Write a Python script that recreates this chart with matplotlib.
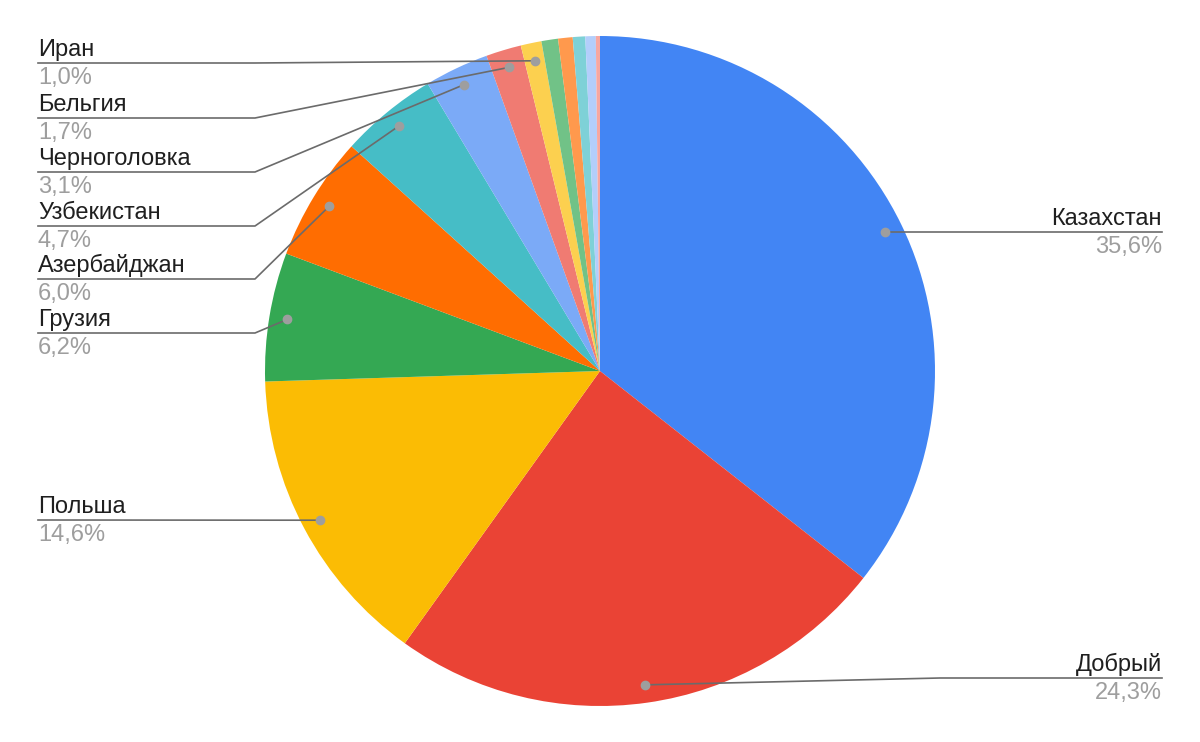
import numpy as np
import matplotlib.pyplot as plt

plt.rcParams['font.family'] = ['Liberation Sans', 'DejaVu Sans']

labels = ['Казахстан', 'Добрый', 'Польша', 'Грузия', 'Азербайджан', 'Узбекистан',
          'Черноголовка', 'Бельгия', 'Иран', 'Прочие 1', 'Прочие 2', 'Прочие 3',
          'Прочие 4', 'Прочие 5']
values = [35.6, 24.3, 14.6, 6.2, 6.0, 4.7, 3.1, 1.7, 1.0, 0.8, 0.7, 0.6, 0.5, 0.2]
pct_text = ['35,6%', '24,3%', '14,6%', '6,2%', '6,0%', '4,7%', '3,1%', '1,7%', '1,0%']
colors = ['#4285F4', '#EA4335', '#FBBC04', '#34A853', '#FF6D01', '#46BDC6',
          '#7BAAF7', '#F07B72', '#FCD04F', '#71C287', '#FF994D', '#7ED1D7',
          '#B3CEFB', '#F7A7A0']

W, H = 1200, 742
fig = plt.figure(figsize=(12, 7.42), dpi=100)
ax = fig.add_axes([0, 0, 1, 1])

cx, cy, R = 600, H - 371, 335
wedges, _ = ax.pie(values, center=(cx, cy), radius=R, startangle=90,
                   counterclock=False, colors=colors,
                   wedgeprops=dict(linewidth=0))
ax.set_xlim(0, W)
ax.set_ylim(0, H)
ax.set_aspect('equal')
ax.axis('off')


def dot_pos(w):
    t = np.deg2rad((w.theta1 + w.theta2) / 2)
    return cx + 317 * np.cos(t), cy + 317 * np.sin(t)


line_c = '#6b6b6b'
name_c = '#1f1f1f'
pct_c = '#9e9e9e'
fs = 17

# left side labels: (index, line y in pixels)
left = [(8, 63), (7, 118), (6, 172), (5, 226), (4, 279), (3, 333), (2, 520)]
for i, ly in left:
    dx, dy = dot_pos(wedges[i])
    yl = H - ly
    if i == 2:
        ax.plot([38, dx], [yl, dy], color=line_c, lw=1.2, zorder=3)
    else:
        ax.plot([38, 255, dx], [yl, yl, dy], color=line_c, lw=1.2, zorder=3)
    ax.plot(dx, dy, 'o', ms=6, color='#9e9e9e', zorder=4)
    ax.text(38, yl + 2, labels[i], ha='left', va='bottom', fontsize=fs, color=name_c)
    ax.text(38, yl - 4, pct_text[i], ha='left', va='top', fontsize=fs, color=pct_c)

# right side labels
right = [(0, 232, None), (1, 678, 940)]
for i, ly, bend in right:
    dx, dy = dot_pos(wedges[i])
    yl = H - ly
    if bend is None:
        ax.plot([dx, 1162], [yl, yl], color=line_c, lw=1.2, zorder=3)
    else:
        ax.plot([dx, bend, 1162], [dy, yl, yl], color=line_c, lw=1.2, zorder=3)
    ax.plot(dx, dy, 'o', ms=6, color='#9e9e9e', zorder=4)
    ax.text(1162, yl + 2, labels[i], ha='right', va='bottom', fontsize=fs, color=name_c)
    ax.text(1162, yl - 4, pct_text[i], ha='right', va='top', fontsize=fs, color=pct_c)

fig.savefig('out.png', dpi=100, facecolor='white')
